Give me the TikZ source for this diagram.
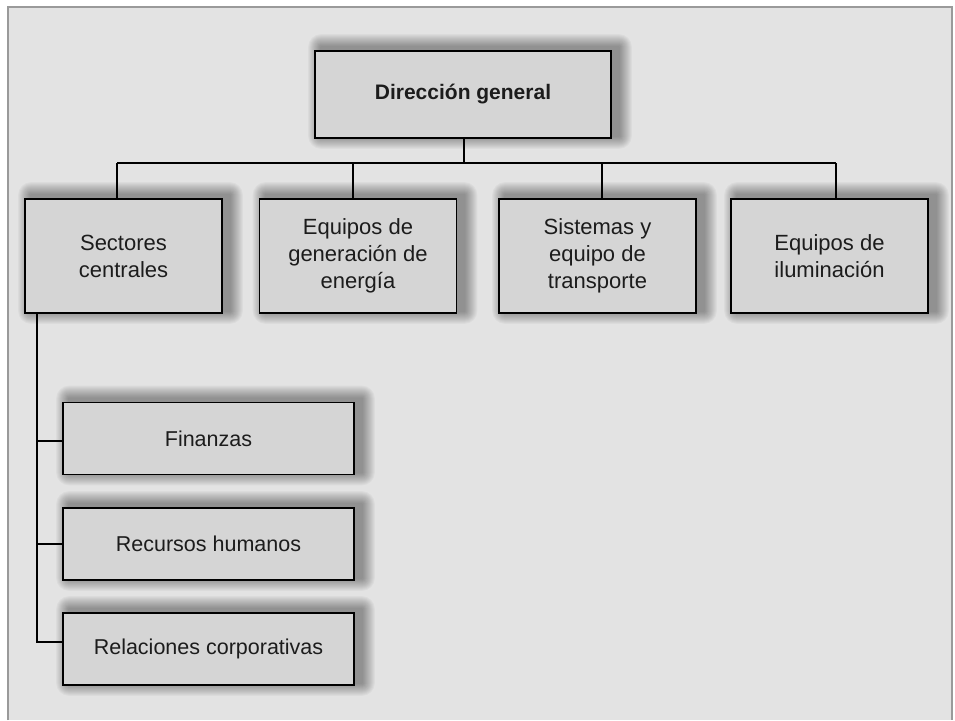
\documentclass[tikz,border=0pt]{standalone}
\usepackage{fontspec}
\setmainfont{Liberation Sans}
\usetikzlibrary{calc}
\definecolor{pagebg}{HTML}{E3E3E3}
\definecolor{frameg}{HTML}{9A9A9A}
\definecolor{boxg}{HTML}{D5D5D5}
\definecolor{txt}{HTML}{1C1C1C}
\pgfdeclarelayer{back}
\pgfdeclarelayer{shad}
\pgfsetlayers{back,shad,main}
\tikzset{
  orgbox/.style={draw=black, line width=1.8pt, fill=boxg, text=txt, align=center, inner sep=2pt},
  topbox/.style={orgbox, font=\fontsize{21}{26}\selectfont\bfseries, minimum width=296pt, minimum height=87pt},
  midbox/.style={orgbox, font=\fontsize{22}{27}\selectfont, minimum width=197pt, minimum height=114pt},
  lowbox/.style={orgbox, font=\fontsize{21.5}{26}\selectfont, minimum width=291pt, minimum height=72pt},
  conn/.style={draw=black, line width=1.6pt}
}
\newcommand{\myshadow}[1]{%
  \begin{pgfonlayer}{shad}
  \foreach \r in {1,...,13}{%
    \fill[black, fill opacity=0.032, rounded corners={\r*1pt}]
      ([xshift={(7-\r)*1pt}, yshift={(3-\r)*1pt}]#1.south west)
      rectangle ([xshift={(7+\r)*1pt}, yshift={(3+\r)*1pt}]#1.north east);
  }
  \end{pgfonlayer}}
\begin{document}
\begin{tikzpicture}[x=1pt, y=-1pt]
\useasboundingbox (0,0) rectangle (955,720);
\begin{pgfonlayer}{back}
  \fill[white] (0,0) rectangle (955,720);
  \fill[pagebg] (8,7) rectangle (952,720);
  \draw[frameg, line width=2.2pt] (8,720) -- (8,7) -- (952,7) -- (952,720);
\end{pgfonlayer}

% nodes
\node[topbox] (dg) at (463,94.5) {Dirección general};
\node[midbox] (s1) at (123.5,256) {Sectores\\centrales};
\node[midbox] (s2) at (358,256) {Equipos de\\generación de\\energía};
\node[midbox] (s3) at (597.5,256) {Sistemas y\\equipo de\\transporte};
\node[midbox] (s4) at (829.5,256) {Equipos de\\iluminación};
\node[lowbox] (f1) at (208.5,438.5) {Finanzas};
\node[lowbox] (f2) at (208.5,544) {Recursos humanos};
\node[lowbox] (f3) at (208.5,649) {Relaciones corporativas};

\myshadow{dg}
\myshadow{s1}
\myshadow{s2}
\myshadow{s3}
\myshadow{s4}
\myshadow{f1}
\myshadow{f2}
\myshadow{f3}

% bus coordinates
\coordinate (bc) at (464,163);
\coordinate (b1) at (117,163);
\coordinate (b2) at (353,163);
\coordinate (b3) at (602,163);
\coordinate (b4) at (836,163);
\coordinate (sp) at (37,313);
\coordinate (t1) at ([yshift=-2.5pt]f1.west);
\coordinate (t2) at (f2.west);
\coordinate (t3) at ([yshift=7pt]f3.west);

\draw[conn] (dg.south -| bc) -- (bc);
\draw[conn] (b1) -- (b4);
\draw[conn] (b1) -- (b1 |- s1.north);
\draw[conn] (b2) -- (b2 |- s2.north);
\draw[conn] (b3) -- (b3 |- s3.north);
\draw[conn] (b4) -- (b4 |- s4.north);

\draw[conn] (s1.south -| sp) -- (sp |- t3) -- (t3);
\draw[conn] (sp |- t1) -- (t1);
\draw[conn] (sp |- t2) -- (t2);
\end{tikzpicture}
\end{document}
